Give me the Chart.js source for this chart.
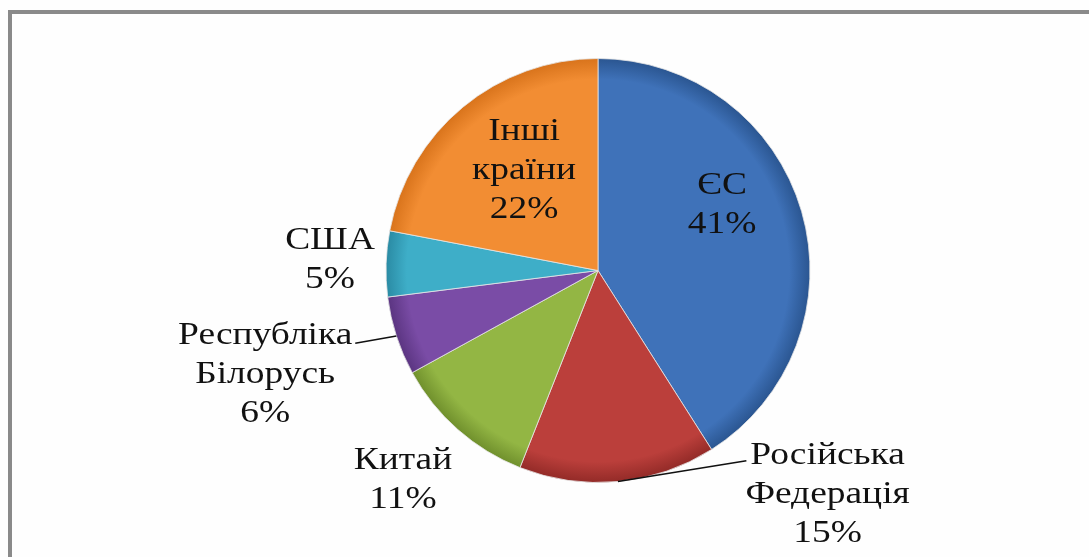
<!DOCTYPE html>
<html>
<head>
<meta charset="utf-8">
<script src="https://cdn.jsdelivr.net/npm/chart.js@4"></script>
<style>
  body { margin: 0; background: #fefefe; }
  #wrap { position: relative; width: 1089px; height: 557px; overflow: hidden; }
  #frame { position: absolute; left: 8px; top: 10px; width: 1200px; height: 700px;
           border-top: 4px solid #8a8a8a; border-left: 4px solid #8a8a8a; }
  canvas { position: absolute; left: 0; top: 0; }
</style>
</head>
<body>
<div id="wrap">
  <div id="frame"></div>
  <canvas id="chart" width="1089" height="557"></canvas>
</div>
<script>
// === Дані ===
const countries = ['ЄС', 'Російська Федерація', 'Китай', 'Республіка Білорусь', 'США', 'Інші країни'];
const shares = [41, 15, 11, 6, 5, 22];
const labelLines = [['ЄС'], ['Російська', 'Федерація'], ['Китай'], ['Республіка', 'Білорусь'], ['США'], ['Інші', 'країни']];

// кольори сегментів (центр / край)
const innerColors = ['#3f72b9', '#bb3f3b', '#93b644', '#7a4ca6', '#3eaec8', '#f28d33'];
const outerColors = ['#2a5590', '#922a27', '#6f8f2c', '#5a3480', '#2a8aa3', '#d8731b'];

// положення підписів у частках радіуса, та лінії-виноски
const labelPos = [
    { dx: 0.585, dy: -0.31, leader: false },
    { dx: 1.083, dy: 1.055, leader: true, end: [0.70, 0.897] },
    { dx: -0.92, dy: 0.99, leader: false },
    { dx: -1.57, dy: 0.49, leader: true, end: [-1.145, 0.343] },
    { dx: -1.264, dy: -0.05, leader: false },
    { dx: -0.349, dy: -0.47, leader: false }
];

const labelsPlugin = {
    id: 'labels',
    afterDraw(chart) {
        const ctx = chart.ctx;
        const arcs = chart.getDatasetMeta(0).data;
        const sx = 1.17; // підписи ширші, ніж звичайний шрифт
        ctx.save();
        ctx.font = '32px "Liberation Serif", "Times New Roman", serif';
        ctx.fillStyle = '#111';
        ctx.textAlign = 'center';
        ctx.textBaseline = 'middle';
        arcs.forEach((arc, i) => {
            const r = arc.outerRadius;
            const p = labelPos[i];
            const lines = labelLines[i].concat([shares[i] + '%']);
            const lh = 39;
            const cx = arc.x + p.dx * r;
            const cy = arc.y + p.dy * r;
            lines.forEach((t, k) => {
                ctx.save();
                ctx.translate(cx, cy + (k - (lines.length - 1) / 2) * lh);
                ctx.scale(sx, 1);
                ctx.fillText(t, 0, 0);
                ctx.restore();
            });
            if (p.leader) {
                const mid = (arc.startAngle + arc.endAngle) / 2;
                const x0 = arc.x + Math.cos(mid) * r;
                const y0 = arc.y + Math.sin(mid) * r;
                ctx.strokeStyle = '#111';
                ctx.lineWidth = 1.5;
                ctx.beginPath();
                ctx.moveTo(x0, y0);
                ctx.lineTo(arc.x + p.end[0] * r, arc.y + p.end[1] * r);
                ctx.stroke();
            }
        });
        ctx.restore();
    }
};

function sliceColor(context) {
    const chart = context.chart;
    const a = chart.chartArea;
    if (!a) return innerColors[context.dataIndex];
    const cx = (a.left + a.right) / 2;
    const cy = (a.top + a.bottom) / 2;
    const r = Math.min(a.right - a.left, a.bottom - a.top) / 2;
    const g = chart.ctx.createRadialGradient(cx, cy, 0, cx, cy, r);
    g.addColorStop(0, innerColors[context.dataIndex]);
    g.addColorStop(0.9, innerColors[context.dataIndex]);
    g.addColorStop(1, outerColors[context.dataIndex]);
    return g;
}

new Chart(document.getElementById('chart'), {
    type: 'pie',
    data: {
        labels: countries,
        datasets: [{
            data: shares,
            backgroundColor: sliceColor,
            borderColor: 'rgba(230,230,230,0.8)',
            borderWidth: 1,
            hoverOffset: 0
        }]
    },
    options: {
        responsive: false,
        animation: false,
        layout: { padding: { left: 200, right: 93, top: 58, bottom: 74 } },
        plugins: {
            legend: { display: false },
            tooltip: { enabled: false }
        }
    },
    plugins: [labelsPlugin]
});
</script>
</body>
</html>
